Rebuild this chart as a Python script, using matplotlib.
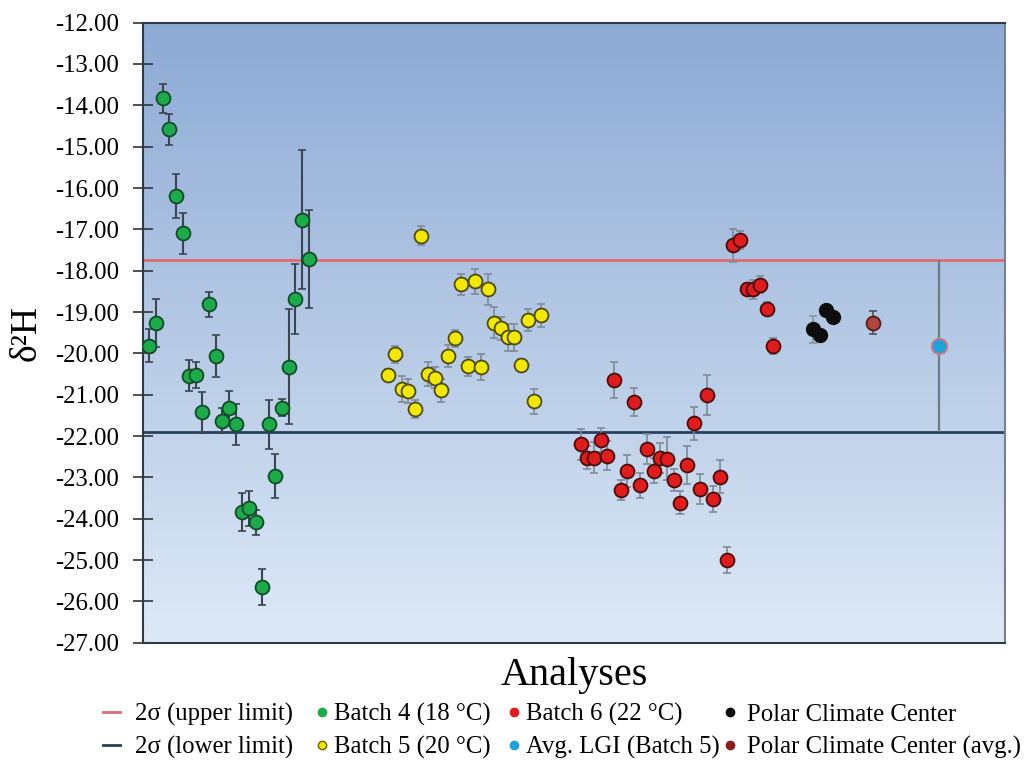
import matplotlib.pyplot as plt
import numpy as np
from matplotlib.lines import Line2D

plt.rcParams['font.family'] = ['Liberation Serif', 'DejaVu Serif']

# Batch 4 (18 °C)
b4_x = np.arange(1, 26)
b4_y = [-19.82, -19.26, -13.83, -14.58, -16.19, -17.10, -20.54, -20.52, -21.43, -18.81,
        -20.07, -21.63, -21.31, -21.72, -23.84, -23.75, -24.09, -25.65, -21.72, -22.97,
        -21.31, -20.32, -18.69, -16.77, -17.72]
b4_err = [0.40, 0.58, 0.35, 0.37, 0.53, 0.50, 0.37, 0.31, 0.49, 0.30,
          0.51, 0.30, 0.40, 0.50, 0.45, 0.43, 0.30, 0.43, 0.60, 0.54,
          0.20, 1.40, 0.84, 1.68, 1.18]

# Batch 5 (20 °C)
b5_x = np.arange(37, 61)
b5_y = [-20.52, -20.02, -20.86, -20.91, -21.35, -17.16, -20.49, -20.59, -20.89, -20.07,
        -19.64, -18.33, -20.31, -18.26, -20.33, -18.45, -19.26, -19.39, -19.61, -19.61,
        -20.28, -19.19, -21.16, -19.08]
b5_err = [0.15, 0.21, 0.31, 0.28, 0.22, 0.23, 0.29, 0.25, 0.28, 0.27,
          0.20, 0.25, 0.23, 0.30, 0.31, 0.38, 0.37, 0.28, 0.33, 0.33,
          0.14, 0.27, 0.30, 0.28]

# Batch 6 (22 °C)
b6_x = np.arange(66, 96)
b6_y = [-22.20, -22.52, -22.52, -22.09, -22.48, -20.64, -23.31, -22.85, -21.18, -23.19,
        -22.31, -22.84, -22.53, -22.55, -23.06, -23.61, -22.70, -21.69, -23.29, -21.01,
        -23.52, -22.98, -25.00, -17.39, -17.25, -18.44, -18.45, -18.34, -18.92, -19.82]
b6_err = [0.38, 0.28, 0.37, 0.29, 0.35, 0.43, 0.24, 0.38, 0.33, 0.30,
          0.37, 0.30, 0.37, 0.52, 0.26, 0.27, 0.45, 0.40, 0.36, 0.49,
          0.32, 0.39, 0.32, 0.41, 0.22, 0.15, 0.23, 0.20, 0.16, 0.19]

# Polar Climate Center
pcc_x = [101, 102, 103, 104]
pcc_y = [-19.42, -19.55, -18.95, -19.13]
pcc_err = [0.32, 0.0, 0.0, 0.0]
pcc_avg_x = [110]
pcc_avg_y = [-19.26]
pcc_avg_err = [0.28]

# Avg. LGI (Batch 5) with 2 sigma limits
lgi_x = [120]
lgi_mean = -19.825
lgi_2sigma = 2.085
upper_limit = lgi_mean + lgi_2sigma
lower_limit = lgi_mean - lgi_2sigma

fig = plt.figure(figsize=(10.32, 7.6), dpi=100)
ax = fig.add_axes([0.1383, 0.1543, 0.836, 0.8159])

xmin, xmax = 0, 130
ymin, ymax = -27, -12

# blue gradient background
top = np.array([141, 170, 213]) / 255
bot = np.array([221, 233, 246]) / 255
t = np.linspace(0, 1, 256)[:, None]
grad = (top * (1 - t) + bot * t)[:, None, :]
ax.imshow(grad, extent=[xmin, xmax, ymin, ymax], aspect='auto', origin='upper', zorder=0)

ax.axhline(upper_limit, color='#e06a6e', lw=2, zorder=1)
ax.axhline(lower_limit, color='#25405f', lw=2, zorder=1)

ax.errorbar(lgi_x, [lgi_mean], yerr=[lgi_2sigma], fmt='none', ecolor='#6e7a86', elinewidth=1.6, capsize=0, zorder=2)

ebar = dict(fmt='none', capsize=3, capthick=1.2, zorder=2)
ax.errorbar(b4_x, b4_y, yerr=b4_err, ecolor='#3c4552', elinewidth=1.5, **ebar)
ax.errorbar(b5_x, b5_y, yerr=b5_err, ecolor='#7f8a98', elinewidth=1.2, **ebar)
ax.errorbar(b6_x, b6_y, yerr=b6_err, ecolor='#7f8a98', elinewidth=1.2, **ebar)
ax.errorbar(pcc_x, pcc_y, yerr=pcc_err, ecolor='#8a95a2', elinewidth=1.2, **ebar)
ax.errorbar(pcc_avg_x, pcc_avg_y, yerr=pcc_avg_err, ecolor='#4a5260', elinewidth=1.2, **ebar)

ms = 10
ax.plot(b4_x, b4_y, 'o', ms=ms, mfc='#1bab48', mec='#134a2a', mew=1.3, zorder=3)
ax.plot(b5_x, b5_y, 'o', ms=ms, mfc='#f2e800', mec='#4d4a10', mew=1.3, zorder=3)
ax.plot(b6_x, b6_y, 'o', ms=ms, mfc='#e01c1c', mec='#4a0c0c', mew=1.3, zorder=3)
ax.plot(pcc_x, pcc_y, 'o', ms=ms, mfc='#0d0d0d', mec='#0d0d0d', mew=1, zorder=3)
ax.plot(pcc_avg_x, pcc_avg_y, 'o', ms=ms, mfc='#b2463c', mec='#5a1a18', mew=1.3, zorder=3)
ax.plot(lgi_x, [lgi_mean], 'o', ms=11, mfc='#1ea2dc', mec='#c77a88', mew=1.5, zorder=3)

ax.set_xlim(xmin, xmax)
ax.set_ylim(ymin, ymax)
ax.set_xticks([])
ax.set_yticks(np.arange(-27, -11, 1))
ax.set_yticklabels(['%.2f' % v for v in np.arange(-27, -11, 1)], fontsize=17.8)
ax.tick_params(axis='y', direction='inout', length=14, width=1.2, color='#333333', pad=10)

for side in ['left', 'bottom', 'top']:
    ax.spines[side].set_color('#2f3a46')
    ax.spines[side].set_linewidth(1.5)
ax.spines['right'].set_color('#7a7f88')
ax.spines['right'].set_linewidth(1.5)

ax.set_xlabel('Analyses', fontsize=29, labelpad=10)
ax.set_ylabel('δ²H', fontsize=27, labelpad=8)

# legend: four columns of two entries, each placed on its own
def dot(color, edge=None):
    return Line2D([], [], marker='o', ls='none', ms=6, mfc=color, mec=edge or color)

columns = [
    ([Line2D([], [], color='#e06a6e', lw=2), Line2D([], [], color='#25405f', lw=2)],
     ['2σ (upper limit)', '2σ (lower limit)'], 0.0998, 0.6),
    ([dot('#1bab48'), dot('#f2e800', '#6b6500')],
     ['Batch 4 (18 °C)', 'Batch 5 (20 °C)'], 0.3037, 0.12),
    ([dot('#e01c1c'), dot('#1ea2dc')],
     ['Batch 6 (22 °C)', 'Avg. LGI (Batch 5)'], 0.490, 0.12),
    ([dot('#0d0d0d'), dot('#8b1e1e')],
     ['Polar Climate Center', 'Polar Climate Center (avg.)'], 0.6985, 0.35),
]
for hs, ls, x0, pad in columns:
    leg = fig.legend(hs, ls, loc='center left', bbox_to_anchor=(x0, 0.038),
                     frameon=False, fontsize=17.8, handlelength=0.7, handletextpad=pad,
                     labelspacing=0.4, borderpad=0, borderaxespad=0)

plt.savefig('out.png', dpi=100, facecolor='w')
